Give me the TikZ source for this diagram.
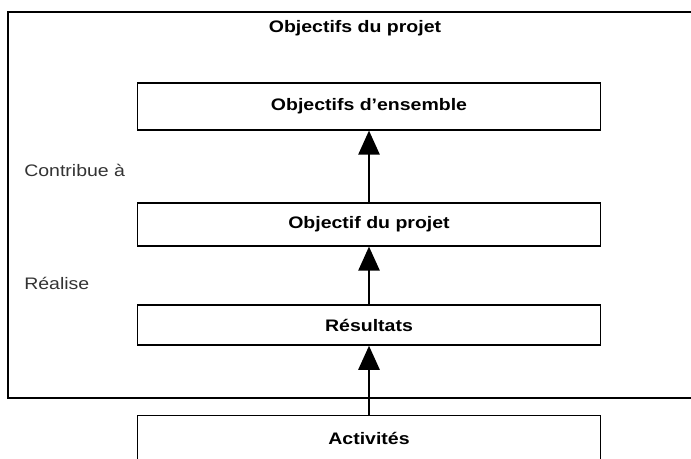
\documentclass[tikz,border=0pt]{standalone}
\usepackage{fontspec}
\setmainfont[FakeStretch=1.17]{Liberation Sans}
\usetikzlibrary{arrows.meta, positioning}

\tikzset{
  levelbox/.style={draw=black, line width=1.2pt, minimum width=347pt, inner sep=0pt, font=\bfseries\fontsize{12.5}{14}\selectfont},
  linklabel/.style={anchor=west, inner sep=0pt, font=\fontsize{12.5}{14}\selectfont, text=black!80},
  uparrow/.style={-{Triangle[length=18pt, width=16pt]}, line width=1.2pt}
}

\begin{document}
\begin{tikzpicture}[x=0.75pt, y=-0.75pt]
          \useasboundingbox (0,0) rectangle (691,459);
          \clip (0,0) rectangle (691,459);
          % Frame of the project objectives
          \draw[line width=1.2pt] (8,12) rectangle (700,398);
          \node[font=\bfseries\fontsize{12.5}{14}\selectfont] (title) at (355,28) {Objectifs du projet};
          % Boxes
          \node[levelbox, minimum height=35pt] (ensemble) at (369,106.5) {Objectifs d'ensemble};
          \node[levelbox, minimum height=32pt] (projet) at (369,224.5) {Objectif du projet};
          \node[levelbox, minimum height=30pt] (resultats) at (369,325) {Résultats};
          \node[levelbox, minimum height=34pt] (activites) at (369,438) {Activités};
          % Labels
          \node[linklabel] (contribue) at (24,170) {Contribue à};
          \node[linklabel] (realise) at (24,283) {Réalise};
          % Arrows
          \draw[uparrow] (projet.north) -- (ensemble.south);
          \draw[uparrow] (resultats.north) -- (projet.south);
          \draw[uparrow] (activites.north) -- (resultats.south);
        \end{tikzpicture}
\end{document}
